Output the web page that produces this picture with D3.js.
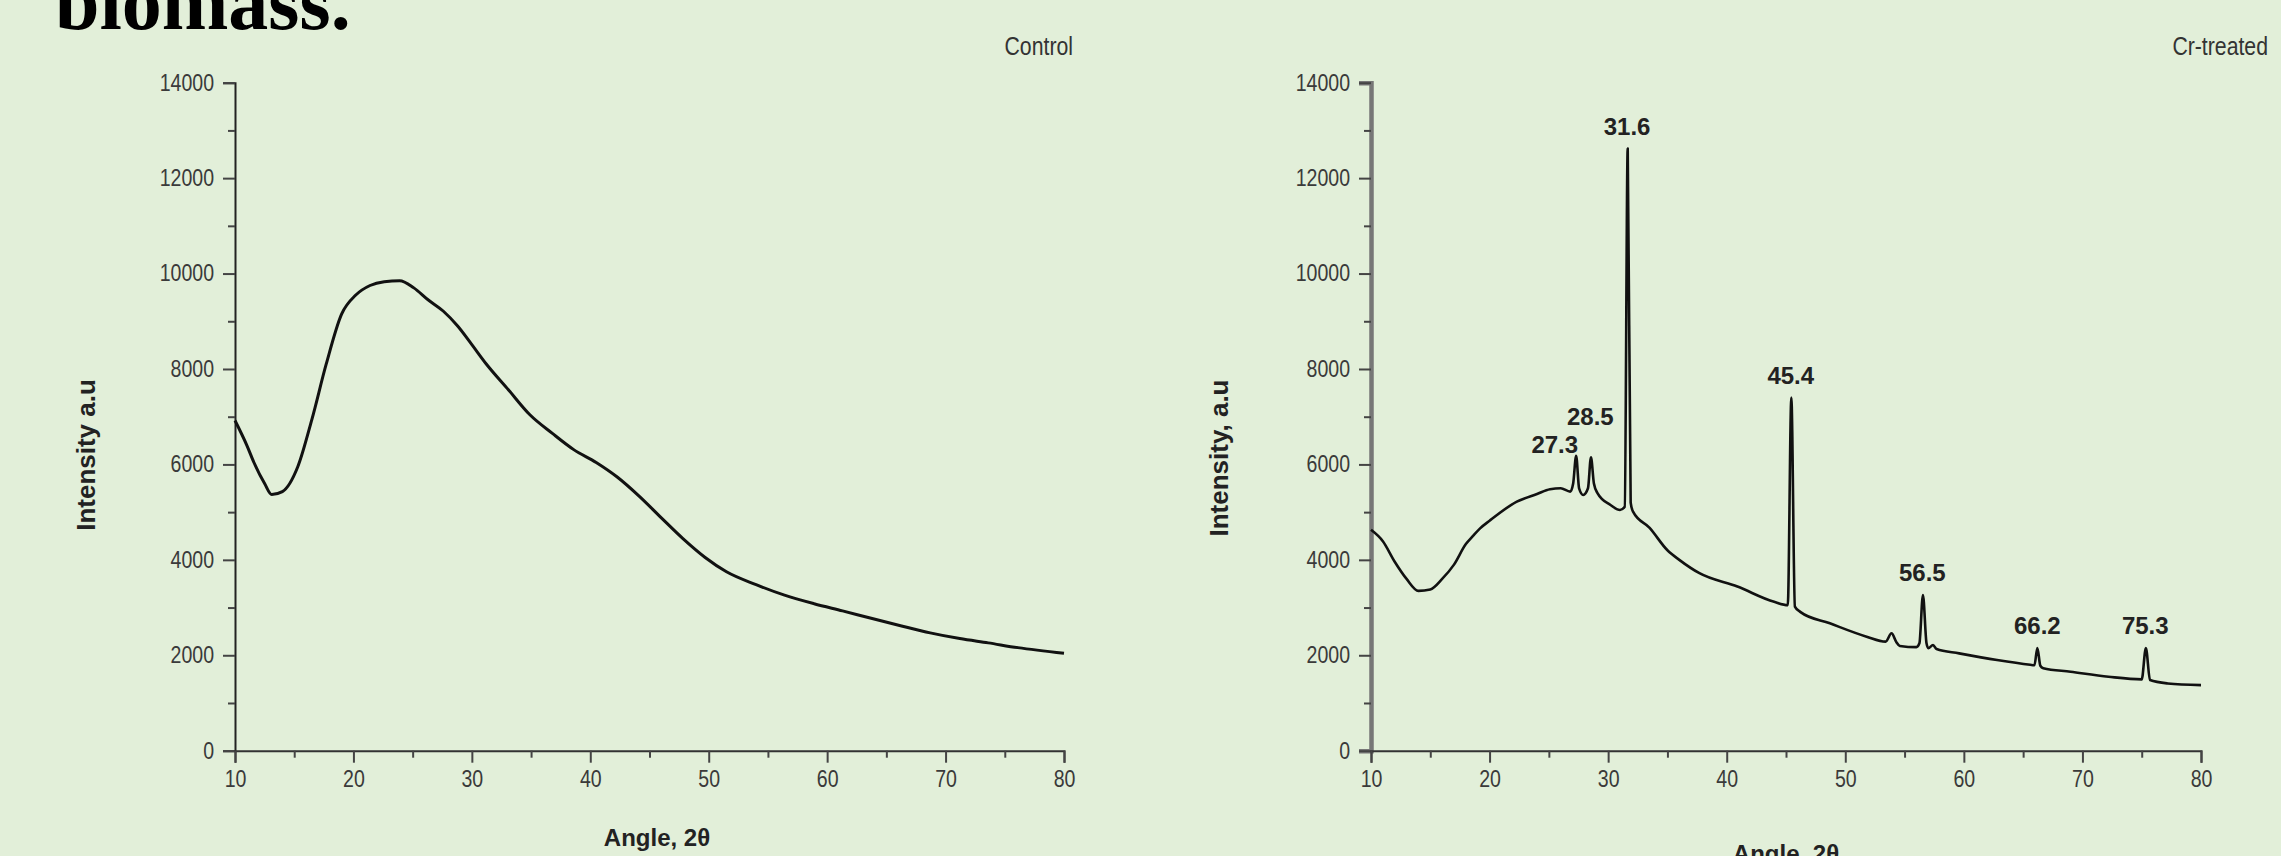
<!DOCTYPE html>
<html>
<head>
<meta charset="utf-8">
<script src="https://cdn.jsdelivr.net/npm/d3@7"></script>
<style>
  body { margin: 0; background: #e2efd9; overflow: hidden; }
  svg { display: block; }
</style>
</head>
<body>
<div id="container"></div>
<script>
'use strict'
// values
const controlAngle     = [10, 11, 11.6, 12.5, 13.1, 14, 15.3, 16.5, 17.7, 19, 20.2, 21.4, 22.6, 23.9, 25.1, 26.3, 27.6, 28.8, 30, 31.2, 33.1, 34.9, 36.8, 38.6, 40.5, 42.3, 44.1, 46, 47.8, 49.7, 51.5, 54, 56.4, 58.9, 61.3, 63.8, 66.2, 68.7, 71.2, 73.6, 76.1, 80]
const controlIntensity = [6920, 6400, 6040, 5600, 5370, 5430, 5950, 6950, 8100, 9150, 9550, 9750, 9830, 9850, 9700, 9450, 9210, 8900, 8510, 8110, 7560, 7040, 6650, 6310, 6040, 5730, 5340, 4880, 4450, 4050, 3750, 3480, 3260, 3080, 2930, 2770, 2620, 2470, 2350, 2260, 2160, 2040]

const crAngle     = [10, 11, 12, 13, 14, 15, 16, 17, 18, 18.6, 19.2, 20, 22.3, 24, 25.1, 26, 26.8, 27.05, 27.3, 27.55, 27.9, 28.3, 28.55, 28.8, 29.1, 30.2, 31.0, 31.4, 31.65, 31.9, 32.1, 33.5, 35, 36, 37.7, 40.9, 44.0, 45.15, 45.45, 45.75, 46.2, 48.7, 51.8, 53.4, 53.9, 54.3, 54.6, 56.0, 56.25, 56.55, 56.85, 57.0, 57.4, 57.7, 59.6, 62.8, 65.6, 65.95, 66.2, 66.45, 66.7, 69.0, 72.2, 75.0, 75.35, 75.7, 77.2, 80]
const crIntensity = [4630, 4390, 3960, 3600, 3350, 3380, 3600, 3900, 4330, 4500, 4660, 4820, 5220, 5380, 5480, 5500, 5430, 5600, 6180, 5500, 5360, 5500, 6150, 5600, 5400, 5150, 5045, 5115, 12620, 5200, 5010, 4670, 4200, 4000, 3720, 3440, 3120, 3050, 7400, 3020, 2910, 2670, 2390, 2285, 2460, 2280, 2195, 2170, 2250, 3260, 2250, 2150, 2215, 2130, 2040, 1900, 1800, 1790, 2150, 1780, 1730, 1655, 1550, 1495, 2150, 1480, 1410, 1375]

const peakAngle     = [27.3, 28.5, 31.6, 45.4, 56.5, 66.2, 75.3]
const peakIntensity = [6180, 6150, 12620, 7400, 3260, 2150, 2150]
const peakText      = ['27.3', '28.5', '31.6', '45.4', '56.5', '66.2', '75.3']

const yMajorTicks = [0, 2000, 4000, 6000, 8000, 10000, 12000, 14000]
const yMinorTicks = [1000, 3000, 5000, 7000, 9000, 11000, 13000]
const xMajorTicks = [10, 20, 30, 40, 50, 60, 70, 80]
const xMinorTicks = [15, 25, 35, 45, 55, 65, 75]

const w = 2281
const h = 856
const sans = '"Liberation Sans", Arial, sans-serif'
const squeeze = 0.85   // the original lettering is a bit narrow
const svg = d3.select('#container').append('svg').attr('width', w).attr('height', h)

svg.append('rect').attr('width', w).attr('height', h).attr('fill', '#e2efd9')

// heading cut off by the top edge
svg.append('text').text('biomass.')
   .attr('x', 55).attr('y', 29)
   .style('font-family', '"Liberation Serif", serif').style('font-weight', '700')
   .style('font-size', '80px').attr('fill', '#000')

const yScale = d3.scaleLinear().domain([0, 14000]).range([750.7, 82.7])

function narrowText(parent, str, x, y, anchor) {
  return parent.append('text').text(str)
     .attr('transform', 'translate(' + x + ',' + y + ') scale(' + squeeze + ',1)')
     .attr('text-anchor', anchor)
}

function panel(x0, x1, angles, values, title, titleRight, yTitle, yTitlePos, xTitlePos, axisStyle, lineW) {
  const xScale = d3.scaleLinear().domain([10, 80]).range([x0, x1])
  const g = svg.append('g')

//axes
  const yAxis = g.append('g').attr('transform', 'translate(' + x0 + ',0)')
     .call(d3.axisLeft(yScale).tickValues(yMajorTicks).tickSize(12).tickPadding(9).tickFormat(d3.format('d')))
  yAxis.selectAll('.tick text').attr('x', -21 / squeeze).attr('transform', 'scale(' + squeeze + ',1)')
  g.append('g').attr('transform', 'translate(' + x0 + ',0)')
     .call(d3.axisLeft(yScale).tickValues(yMinorTicks).tickSize(7).tickFormat(''))
     .select('.domain').remove()
  const xAxis = g.append('g').attr('transform', 'translate(0,' + yScale(0) + ')')
     .call(d3.axisBottom(xScale).tickValues(xMajorTicks).tickSize(12).tickPadding(8))
  xAxis.selectAll('.tick text').attr('transform', 'scale(' + squeeze + ',1)')
  g.append('g').attr('transform', 'translate(0,' + yScale(0) + ')')
     .call(d3.axisBottom(xScale).tickValues(xMinorTicks).tickSize(7).tickFormat(''))
     .select('.domain').remove()

  g.selectAll('.tick line').attr('stroke', '#444').attr('stroke-width', 2)
  g.selectAll('.domain').attr('stroke', '#333').attr('stroke-width', 2)
  yAxis.select('.domain').attr('stroke', axisStyle.color).attr('stroke-width', axisStyle.width)
  g.selectAll('.tick text').attr('fill', '#3a3a3a')
     .style('font-family', sans).style('font-size', '23px')

//curve
  const line = d3.line().x(d => xScale(d[0])).y(d => yScale(d[1])).curve(d3.curveMonotoneX)
  g.append('path').datum(angles.map((a, i) => [a, values[i]]))
     .attr('d', line).attr('fill', 'none').attr('stroke', '#111')
     .attr('stroke-width', lineW).attr('stroke-linejoin', 'round')

//texts
  narrowText(g, title, titleRight, 55, 'end').attr('fill', '#333')
     .style('font-family', sans).style('font-size', '25px')
  g.append('text').text(yTitle)
     .attr('transform', 'translate(' + yTitlePos[0] + ',' + yTitlePos[1] + ') rotate(-90)')
     .attr('text-anchor', 'middle').attr('fill', '#222')
     .style('font-family', sans).style('font-size', '26px').style('font-weight', '700')
  g.append('text').text('Angle, 2θ').attr('x', xTitlePos[0]).attr('y', xTitlePos[1])
     .attr('text-anchor', 'middle').attr('fill', '#222')
     .style('font-family', sans).style('font-size', '24px').style('font-weight', '700')
  return xScale
}

panel(235, 1064, controlAngle, controlIntensity, 'Control', 1073, 'Intensity a.u', [95, 455], [657, 846], {color: '#222', width: 2}, 3)
const crX = panel(1371, 2201, crAngle, crIntensity, 'Cr-treated', 2268, 'Intensity, a.u', [1228, 458], [1786, 862], {color: '#777', width: 4.5}, 2.6)

// peak labels
peakAngle.forEach(function(a, i) {
  let dx = 0, dy = -14, anchor = 'middle'
  if (i === 0) { dx = 2; dy = -3; anchor = 'end' }
  if (i === 1) { dy = -32 }
  svg.append('text').text(peakText[i])
     .attr('x', crX(a) + dx).attr('y', yScale(peakIntensity[i]) + dy)
     .attr('text-anchor', anchor).attr('fill', '#222')
     .style('font-family', sans).style('font-size', '24px').style('font-weight', '700')
})
</script>
</body>
</html>
